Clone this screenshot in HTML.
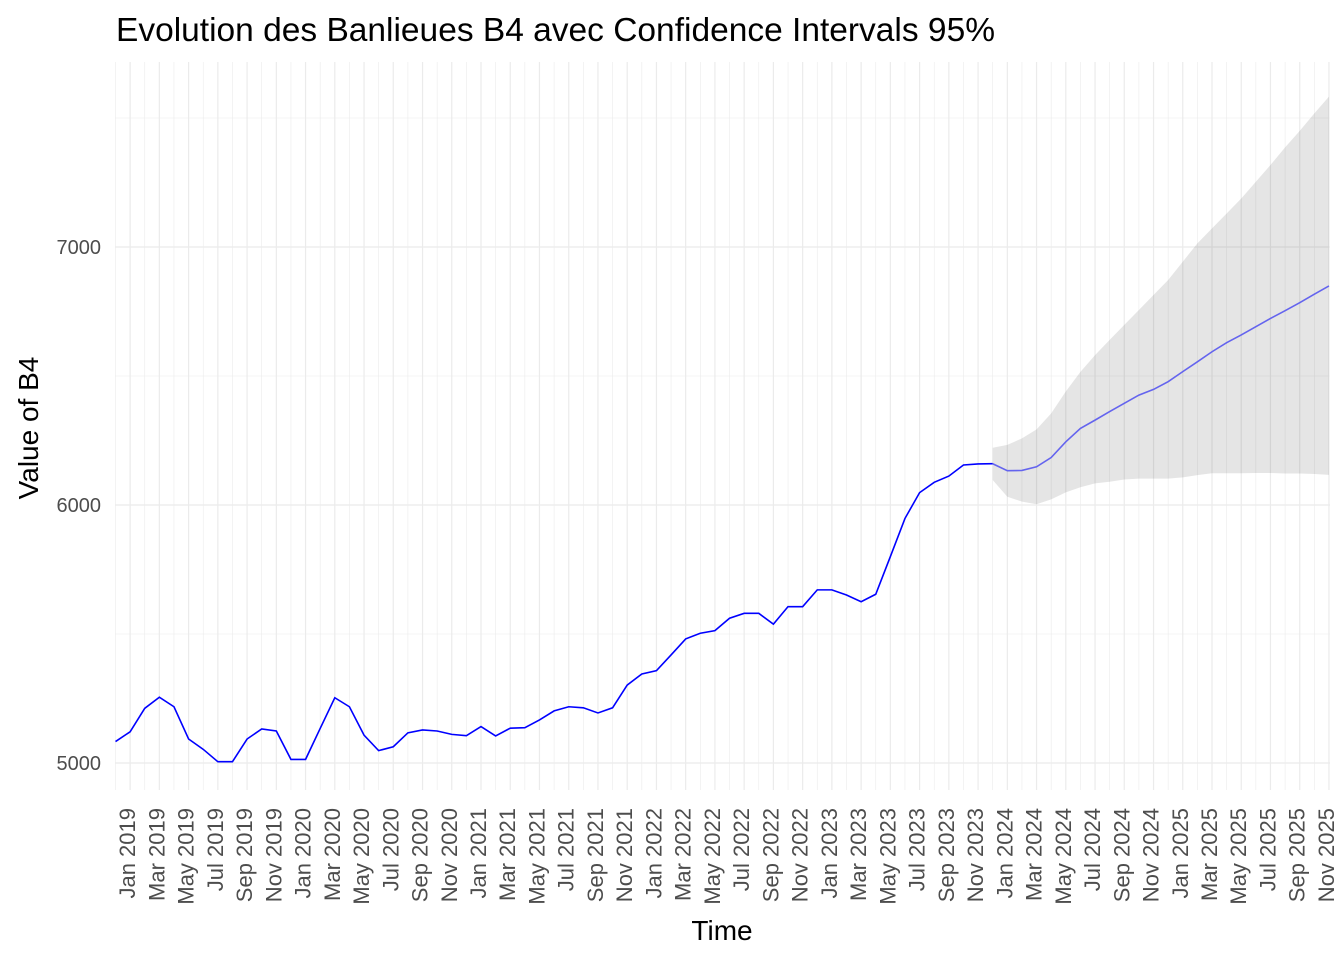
<!DOCTYPE html>
<html><head><meta charset="utf-8"><style>
body{margin:0;background:#fff;}
svg{display:block;font-family:"Liberation Sans",Arial,sans-serif;}
</style></head><body>
<svg id="chart" width="1344" height="960"></svg>
<script>
const histValues=[5083,5121,5212,5255,5218,5093,5053,5005,5005,5093,5132,5124,5014,5014,5134,5253,5218,5108,5048,5063,5117,5128,5124,5111,5106,5141,5105,5135,5137,5167,5202,5218,5214,5194,5214,5302,5345,5358,5419,5481,5503,5513,5561,5580,5580,5538,5606,5606,5671,5671,5651,5625,5654,5800,5948,6048,6088,6112,6155,6159,6160];
const fcMean=[6160,6133,6134,6148,6184,6245,6297,6329,6362,6394,6426,6448,6478,6517,6555,6594,6629,6659,6691,6723,6753,6784,6817,6849];
const fcUpper=[6222,6233,6258,6293,6355,6440,6516,6581,6640,6698,6756,6814,6872,6943,7014,7072,7130,7188,7253,7318,7386,7450,7518,7583];
const fcLower=[6097,6032,6013,6003,6022,6049,6069,6084,6090,6099,6102,6102,6102,6107,6116,6123,6123,6123,6124,6124,6122,6122,6120,6117];
const yTicks=[5000,6000,7000];
const yMinor=[5500,6500,7500];
const monthNames=["Jan","Feb","Mar","Apr","May","Jun","Jul","Aug","Sep","Oct","Nov","Dec"];
const startYear=2018, startMonth=11; // Dec 2018

const NS="http://www.w3.org/2000/svg";
const svg=document.getElementById('chart');
const X0=115.5, DX=14.62, PT=62, PB=790, PL=115, PR=1330;
const xS=i=>X0+i*DX;
const yS=v=>763-(v-5000)*0.258;
function mk(t,a,p){const e=document.createElementNS(NS,t);for(const k in a)e.setAttribute(k,a[k]);(p||svg).appendChild(e);return e;}
const nTotal=histValues.length-1+fcMean.length;
for(const v of yMinor){const l=mk('line',{x1:PL,x2:PR,y1:yS(v),y2:yS(v),stroke:'#ebebeb','stroke-width':0.6});

}
for(let i=0;i<nTotal;i++){const m=(startMonth+i)%12;const major=m%2===0;
const l=mk('line',{x1:xS(i),x2:xS(i),y1:PT,y2:PB,stroke:'#ebebeb','stroke-width':major?1.2:0.6});

}
for(const v of yTicks){const l=mk('line',{x1:PL,x2:PR,y1:yS(v),y2:yS(v),stroke:'#ebebeb','stroke-width':1.2});


const t=mk('text',{x:101,y:yS(v)+7,'text-anchor':'end','font-size':20,fill:'#4d4d4d'});t.textContent=v;

}
for(let i=0;i<nTotal;i++){const m=(startMonth+i)%12;if(m%2!==0)continue;const yr=startYear+Math.floor((startMonth+i)/12);
const x=xS(i)+5;const t=mk('text',{x:0,y:0,transform:`translate(${x},808) rotate(-90)`,'text-anchor':'end','font-size':22,fill:'#4d4d4d'});
t.textContent=monthNames[m]+' '+yr;

}
const off=histValues.length-1;
let d='';fcUpper.forEach((v,i)=>{d+=(i?'L':'M')+xS(off+i)+','+yS(v);});
for(let i=fcLower.length-1;i>=0;i--)d+='L'+xS(off+i)+','+yS(fcLower[i]);
const rib=mk('path',{d:d+'Z',fill:'rgba(0,0,0,0.1)'});


const hp=mk('polyline',{points:histValues.map((v,i)=>xS(i)+','+yS(v)).join(' '),fill:'none',stroke:'#0000ff','stroke-width':1.6});


const fp=mk('polyline',{points:fcMean.map((v,i)=>xS(off+i)+','+yS(v)).join(' '),fill:'none',stroke:'#6464ee','stroke-width':1.6});


const ti=mk('text',{x:116,y:41,'font-size':33.5,fill:'#000'});ti.textContent='Evolution des Banlieues B4 avec Confidence Intervals 95%';


const xt=mk('text',{x:722,y:940,'text-anchor':'middle','font-size':28,fill:'#000'});xt.textContent='Time';


const yt=mk('text',{x:0,y:0,transform:'translate(38,428) rotate(-90)','text-anchor':'middle','font-size':28,fill:'#000'});yt.textContent='Value of B4';


</script>
</body></html>
